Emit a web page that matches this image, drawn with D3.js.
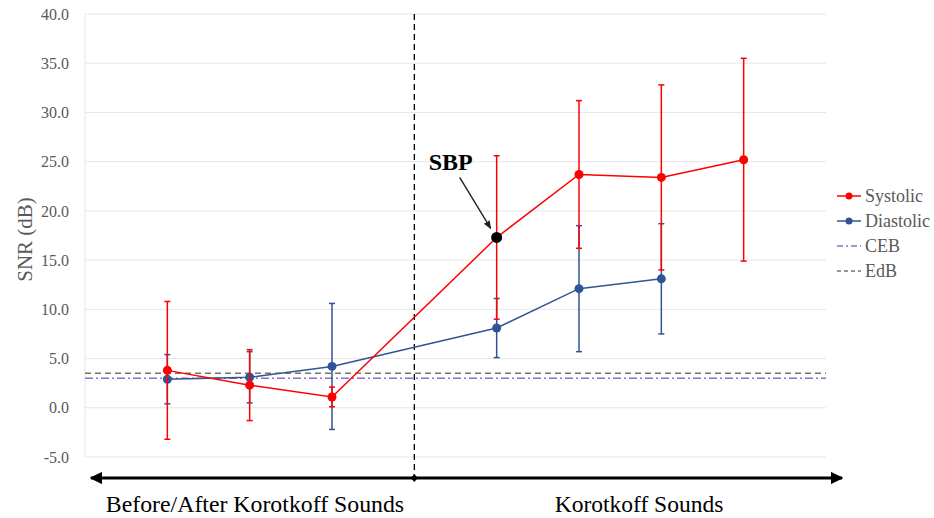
<!DOCTYPE html>
<html>
<head>
<meta charset="utf-8">
<script src="https://cdn.jsdelivr.net/npm/d3@7"></script>
<style>
  html, body { margin: 0; padding: 0; background: #fff; }
  svg { display: block; }
  text { font-family: "Liberation Serif", "Times New Roman", serif; }
</style>
</head>
<body>
<svg id="chart" width="934" height="518"></svg>
<script>
// Measurement positions along the recording (slot 4 marks the SBP boundary)
const positions = [1, 2, 3, 5, 6, 7, 8];

// Systolic SNR: mean and error (dB)
const systolicPos  = [1, 2, 3, 5, 6, 7, 8];
const systolicMean = [3.8, 2.3, 1.1, 17.3, 23.7, 23.4, 25.2];
const systolicErr  = [7.0, 3.6, 1.0, 8.3, 7.5, 9.4, 10.3];

// Diastolic SNR: mean and error (dB)
const diastolicPos  = [1, 2, 3, 5, 6, 7];
const diastolicMean = [2.9, 3.1, 4.2, 8.1, 12.1, 13.1];
const diastolicErr  = [2.5, 2.6, 6.4, 3.0, 6.4, 5.6];

// Reference levels (dB)
const cebLevel = 3.0;
const edbLevel = 3.5;

// Y axis ticks
const yTicks = [-5, 0, 5, 10, 15, 20, 25, 30, 35, 40];

// SBP marker sits on the systolic series at this index
const sbpIndex = 3;
const boundary = 4;

const legendItems = ["Systolic", "Diastolic", "CEB", "EdB"];
const regionLabels = ["Before/After Korotkoff Sounds", "Korotkoff Sounds"];

const colors = { sys: "#ff0000", dia: "#2f5597", ceb: "#8e6cc8", edb: "#77775f" };

const svg = d3.select("#chart");
const plot = { left: 85, right: 826, top: 14, bottom: 457 };

const x = d3.scaleLinear().domain([0, 9]).range([plot.left, plot.right]);
const y = d3.scaleLinear().domain([-5, 40]).range([plot.bottom, plot.top]);

// Gridlines
svg.append("g")
  .selectAll("line")
  .data(yTicks)
  .join("line")
  .attr("x1", plot.left).attr("x2", plot.right)
  .attr("y1", d => y(d)).attr("y2", d => y(d))
  .attr("stroke", "#e6e6e6").attr("stroke-width", 1);

// Left border of the plot area
svg.append("line")
  .attr("x1", plot.left).attr("x2", plot.left)
  .attr("y1", plot.top).attr("y2", plot.bottom)
  .attr("stroke", "#e6e6e6");

// Y axis labels
const yAxis = d3.axisLeft(y).tickValues(yTicks).tickFormat(d => d.toFixed(1)).tickSize(0).tickPadding(16);
const yg = svg.append("g").attr("transform", `translate(${plot.left},0)`).call(yAxis);
yg.select(".domain").remove();
yg.selectAll("text")
  .attr("font-family", "Liberation Serif, Times New Roman, serif")
  .attr("font-size", 16).attr("fill", "#595959");

svg.append("text")
  .attr("transform", `translate(32,${(plot.top + plot.bottom) / 2 + 4}) rotate(-90)`)
  .attr("text-anchor", "middle")
  .attr("font-size", 21).attr("fill", "#595959")
  .text("SNR (dB)");

// Reference levels
svg.append("line")
  .attr("x1", plot.left).attr("x2", plot.right)
  .attr("y1", y(edbLevel)).attr("y2", y(edbLevel))
  .attr("stroke", colors.edb).attr("stroke-width", 1.5).attr("stroke-dasharray", "6,4");
svg.append("line")
  .attr("x1", plot.left).attr("x2", plot.right)
  .attr("y1", y(cebLevel)).attr("y2", y(cebLevel))
  .attr("stroke", colors.ceb).attr("stroke-width", 1.5).attr("stroke-dasharray", "8,3,2,3");

// Boundary divider
const arrowY = 478;
svg.append("line")
  .attr("x1", x(boundary)).attr("x2", x(boundary))
  .attr("y1", plot.top).attr("y2", arrowY)
  .attr("stroke", "#000").attr("stroke-width", 1.3).attr("stroke-dasharray", "6,4");

// Series drawing
function drawSeries(pos, mean, err, color) {
  const g = svg.append("g");
  // error bars
  pos.forEach((p, i) => {
    const cx = x(p);
    const y1 = y(mean[i] + err[i]), y2 = y(mean[i] - err[i]);
    g.append("line").attr("x1", cx).attr("x2", cx).attr("y1", y1).attr("y2", y2)
      .attr("stroke", color).attr("stroke-width", 1.5);
    [y1, y2].forEach(yy => g.append("line")
      .attr("x1", cx - 3).attr("x2", cx + 3).attr("y1", yy).attr("y2", yy)
      .attr("stroke", color).attr("stroke-width", 1.5));
  });
  const line = d3.line().x((d, i) => x(pos[i])).y(d => y(d));
  g.append("path").datum(mean).attr("d", line)
    .attr("fill", "none").attr("stroke", color).attr("stroke-width", 1.5);
  g.selectAll("circle").data(mean).join("circle")
    .attr("cx", (d, i) => x(pos[i])).attr("cy", d => y(d)).attr("r", 4.5)
    .attr("fill", color);
  return g;
}

drawSeries(diastolicPos, diastolicMean, diastolicErr, colors.dia);
drawSeries(systolicPos, systolicMean, systolicErr, colors.sys);

// SBP marker and annotation
const sbpX = x(systolicPos[sbpIndex]), sbpY = y(systolicMean[sbpIndex]);
svg.append("circle").attr("cx", sbpX).attr("cy", sbpY).attr("r", 5.5).attr("fill", "#000");

const defs = svg.append("defs");
defs.append("marker").attr("id", "ann").attr("viewBox", "0 0 10 10")
  .attr("refX", 9).attr("refY", 5).attr("markerWidth", 6).attr("markerHeight", 6)
  .attr("orient", "auto")
  .append("path").attr("d", "M0,1 L10,5 L0,9 Z").attr("fill", "#222");
svg.append("line")
  .attr("x1", sbpX - 37).attr("y1", sbpY - 60)
  .attr("x2", sbpX - 6).attr("y2", sbpY - 9)
  .attr("stroke", "#222").attr("stroke-width", 1.4).attr("marker-end", "url(#ann)");
svg.append("text")
  .attr("x", sbpX - 46).attr("y", sbpY - 67)
  .attr("text-anchor", "middle")
  .attr("font-size", 24).attr("font-weight", "bold").attr("fill", "#000")
  .text("SBP");

// Region arrow along the bottom
defs.append("marker").attr("id", "head").attr("viewBox", "0 0 10 10")
  .attr("refX", 9).attr("refY", 5).attr("markerWidth", 4.5).attr("markerHeight", 4.5)
  .attr("orient", "auto-start-reverse")
  .append("path").attr("d", "M0,0 L10,5 L0,10 Z").attr("fill", "#000");
svg.append("line")
  .attr("x1", 91).attr("x2", 842).attr("y1", arrowY).attr("y2", arrowY)
  .attr("stroke", "#000").attr("stroke-width", 2.8)
  .attr("marker-start", "url(#head)").attr("marker-end", "url(#head)");
svg.append("path")
  .attr("d", `M${x(boundary)},${arrowY - 4} L${x(boundary) + 3.5},${arrowY} L${x(boundary)},${arrowY + 4} L${x(boundary) - 3.5},${arrowY} Z`)
  .attr("fill", "#000");

svg.append("text").attr("x", 255).attr("y", 512).attr("text-anchor", "middle")
  .attr("font-size", 23.8).attr("fill", "#000").text(regionLabels[0]);
svg.append("text").attr("x", 639).attr("y", 512).attr("text-anchor", "middle")
  .attr("font-size", 23.5).attr("fill", "#000").text(regionLabels[1]);

// Legend
const legend = svg.append("g").attr("transform", "translate(837,196)");
legendItems.forEach((name, i) => {
  const gy = i * 25;
  const item = legend.append("g").attr("transform", `translate(0,${gy})`);
  if (i < 2) {
    const c = i === 0 ? colors.sys : colors.dia;
    item.append("line").attr("x1", 0).attr("x2", 24).attr("y1", 0).attr("y2", 0)
      .attr("stroke", c).attr("stroke-width", 1.5);
    item.append("circle").attr("cx", 12).attr("cy", 0).attr("r", 3.5).attr("fill", c);
  } else if (i === 2) {
    item.append("line").attr("x1", 0).attr("x2", 24).attr("y1", 0).attr("y2", 0)
      .attr("stroke", colors.ceb).attr("stroke-width", 1.5).attr("stroke-dasharray", "6,3,2,3");
  } else {
    item.append("line").attr("x1", 0).attr("x2", 24).attr("y1", 0).attr("y2", 0)
      .attr("stroke", colors.edb).attr("stroke-width", 1.5).attr("stroke-dasharray", "4,3");
  }
  item.append("text").attr("x", 28).attr("y", 6)
    .attr("font-size", 18).attr("fill", "#595959").text(name);
});
</script>
</body>
</html>
